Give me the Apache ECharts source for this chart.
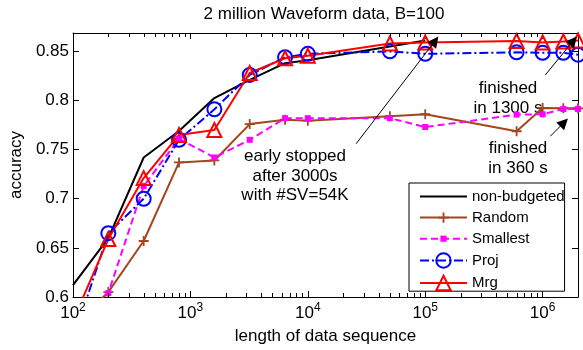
<!DOCTYPE html>
<html>
<head>
<meta charset="utf-8">
<script src="https://cdn.jsdelivr.net/npm/echarts@6/dist/echarts.min.js"></script>
<style>
html, body { margin: 0; padding: 0; background: #fff; }
#chart { width: 583px; height: 350px; }
</style>
</head>
<body>
<div id="chart"></div>
<script>
const lengths = [100, 200, 400, 800, 1600, 3200, 6400, 10000, 50000, 100000, 600000, 1000000, 1500000, 2000000];
const nonBudgeted = [0.612, 0.660, 0.742, 0.769, 0.8025, 0.821, 0.838, 0.841, 0.855, 0.861];
const random = [0.57, 0.605, 0.657, 0.737, 0.739, 0.776, 0.7805, 0.7795, 0.784, 0.786, 0.7687, 0.7924, 0.792, 0.792];
const smallest = [0.57, 0.604, 0.713, 0.761, 0.742, 0.760, 0.782, 0.782, 0.782, 0.773, 0.7856, 0.786, 0.7914, 0.7914];
const proj = [0.556, 0.665, 0.700, 0.760, 0.791, 0.826, 0.844, 0.8475, 0.850, 0.8475, 0.849, 0.8485, 0.8485, 0.8466];
const mrg = [0.576, 0.659, 0.721, 0.765, 0.770, 0.828, 0.843, 0.8455, 0.858, 0.859, 0.8605, 0.859, 0.860, 0.861];
const yTicks = [0.6, 0.65, 0.7, 0.75, 0.8, 0.85];
const decades = [100, 1000, 10000, 100000, 1000000];

const font = 'Liberation Sans, Arial, Helvetica, sans-serif';
const pts = ys => ys.map((v, i) => [lengths[i], v]);

// minor log ticks 2..9 of every decade inside the axis range
const minorTicks = [];
decades.forEach(d => {
    for (let k = 2; k <= 9; k++) if (d * k < 2000000) minorTicks.push([d * k, 0.7]);
});

// small marker shapes inside a 14x14 frame so the legend keeps their size
const plusPath = 'path://M0,0M14,14M6.1,2H7.9V6.1H12V7.9H7.9V12H6.1V7.9H2V6.1H6.1Z';
const squarePath = 'path://M0,0M14,14M4,4H10V10H4Z';
const arrowPath = 'path://M0,0L4,11L-4,11Z';

const chart = echarts.init(document.getElementById('chart'));

function xLabel(v) {
    const e = Math.round(Math.log10(v));
    if (Math.abs(Math.log10(v) - e) > 1e-6) return '';
    return '{b|10}{s|' + e + '}';
}
function yLabel(v) {
    const t = yTicks.find(t => Math.abs(t - v) < 1e-6);
    return t === undefined ? '' : String(t);
}

const axisLine = { lineStyle: { color: '#000', width: 1 } };

chart.setOption({
    animation: false,
    title: {
        text: '2 million Waveform data, B=100',
        left: 324, top: 6, padding: 0, textAlign: 'center',
        textStyle: { fontSize: 17, fontWeight: 'normal', color: '#000', fontFamily: font }
    },
    grid: { left: 68, right: 5, top: 33, bottom: 52 },
    legend: {
        orient: 'vertical',
        left: 409, top: 183,
        padding: [6, 0, 0, 10],
        itemWidth: 47, itemHeight: 18, itemGap: 6.1,
        backgroundColor: '#fff', borderColor: '#000', borderWidth: 1,
        selectedMode: false,
        textStyle: { fontSize: 15, color: '#000', fontFamily: font },
        data: ['non-budgeted', 'Random', 'Smallest', 'Proj', 'Mrg']
    },
    xAxis: [{
        type: 'log', logBase: 10, min: 100, max: 2000000,
        name: 'length of data sequence', nameLocation: 'middle', nameGap: 31,
        nameTextStyle: { fontSize: 17, color: '#000', fontFamily: font },
        axisLine: axisLine,
        axisTick: { inside: true, length: 6, lineStyle: { color: '#000' } },
        splitLine: { show: false },
        axisLabel: {
            margin: 5, formatter: xLabel,
            rich: {
                b: { fontSize: 17, lineHeight: 22, color: '#000', fontFamily: font },
                s: { fontSize: 12, lineHeight: 12, verticalAlign: 'top', color: '#000', fontFamily: font }
            }
        }
    }, {
        type: 'log', logBase: 10, min: 100, max: 2000000, position: 'top',
        axisLine: axisLine,
        axisTick: { inside: true, length: 6, lineStyle: { color: '#000' } },
        splitLine: { show: false },
        axisLabel: { show: false }
    }],
    yAxis: [{
        type: 'value', min: 0.6, max: 0.8687, interval: 0.05,
        name: 'accuracy', nameLocation: 'middle', nameGap: 42,
        nameTextStyle: { fontSize: 17, color: '#000', fontFamily: font },
        axisLine: { show: true, lineStyle: { color: '#000', width: 1 } },
        axisTick: { show: true, inside: true, length: 6, lineStyle: { color: '#000' } },
        splitLine: { show: false },
        axisLabel: { margin: 4, formatter: yLabel, fontSize: 17, color: '#000', fontFamily: font }
    }, {
        type: 'value', min: 0.6, max: 0.8687, interval: 0.05, position: 'right',
        axisLine: { show: true, lineStyle: { color: '#000', width: 1 } },
        axisTick: { show: true, inside: true, length: 6, lineStyle: { color: '#000' } },
        splitLine: { show: false },
        axisLabel: { show: false }
    }],
    graphic: [
        { type: 'text', x: 295, y: 147, silent: true,
          style: { text: 'early stopped\nafter 3000s\nwith #SV=54K', textAlign: 'center', textVerticalAlign: 'top',
                   fontSize: 17, lineHeight: 19.5, fill: '#000', fontFamily: font } },
        { type: 'text', x: 508, y: 78, silent: true,
          style: { text: 'finished\nin 1300 s', textAlign: 'center', textVerticalAlign: 'top',
                   fontSize: 17, lineHeight: 20, fill: '#000', fontFamily: font } },
        { type: 'text', x: 518, y: 138, silent: true,
          style: { text: 'finished\nin 360 s', textAlign: 'center', textVerticalAlign: 'top',
                   fontSize: 17, lineHeight: 20, fill: '#000', fontFamily: font } }
    ],
    series: [{
        name: 'minor ticks', type: 'custom', coordinateSystem: 'cartesian2d',
        data: minorTicks, silent: true, clip: false, z: 5,
        encode: { x: 0, y: 1 },
        renderItem: function (params, api) {
            const p = api.coord([api.value(0), api.value(1)]);
            const x = Math.round(p[0]) + 0.5;
            const cs = params.coordSys;
            const style = { stroke: '#000', lineWidth: 1 };
            return {
                type: 'group',
                children: [
                    { type: 'line', shape: { x1: x, y1: cs.y + cs.height, x2: x, y2: cs.y + cs.height - 4 }, style: style },
                    { type: 'line', shape: { x1: x, y1: cs.y, x2: x, y2: cs.y + 4 }, style: style }
                ]
            };
        }
    }, {
        name: 'non-budgeted', type: 'line', data: pts(nonBudgeted),
        symbol: 'none',
        itemStyle: { color: 'rgba(0,0,0,0)' },
        lineStyle: { color: '#000', width: 2 }
    }, {
        name: 'Random', type: 'line', data: pts(random),
        symbol: plusPath, symbolSize: 14,
        itemStyle: { color: '#a3461c' },
        lineStyle: { color: '#a3461c', width: 2 }
    }, {
        name: 'Smallest', type: 'line', data: pts(smallest),
        symbol: squarePath, symbolSize: 14,
        itemStyle: { color: '#ff00ff' },
        lineStyle: { color: '#ff00ff', width: 2, type: [7, 4] }
    }, {
        name: 'Proj', type: 'line', data: pts(proj),
        symbol: 'circle', symbolSize: 14,
        itemStyle: { color: 'rgba(0,0,0,0)', borderColor: '#0000ff', borderWidth: 2 },
        lineStyle: { color: '#0000ff', width: 2, type: [9, 3, 2, 3] }
    }, {
        name: 'Mrg', type: 'line', data: pts(mrg),
        symbol: 'triangle', symbolSize: 14,
        itemStyle: { color: 'rgba(0,0,0,0)', borderColor: '#ff0000', borderWidth: 2 },
        lineStyle: { color: '#ff0000', width: 2 },
        markLine: {
            silent: true, animation: false,
            symbol: ['none', arrowPath], symbolSize: 11,
            label: { show: false },
            itemStyle: { color: '#000' },
            lineStyle: { color: '#000', width: 1, type: 'solid' },
            emphasis: { disabled: true },
            data: [
                [{ coord: [25800, 0.756] }, { coord: [121300, 0.8606] }],
                [{ coord: [1054000, 0.826] }, { coord: [1824000, 0.8608] }],
                [{ coord: [1161000, 0.7636] }, { coord: [1522000, 0.7777] }]
            ]
        }
    }]
});
</script>
</body>
</html>
